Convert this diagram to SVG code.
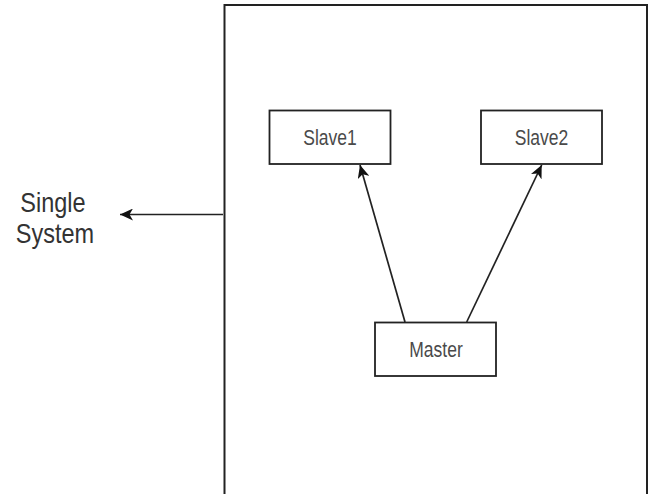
<svg xmlns="http://www.w3.org/2000/svg" width="653" height="494" viewBox="0 0 653 494">
<defs>
<marker id="arr" markerWidth="14" markerHeight="12" refX="13" refY="6" orient="auto" markerUnits="userSpaceOnUse">
<path d="M0,0 L13,6 L0,12 L3.5,6 Z" fill="#111"/>
</marker>
</defs>
<style>
.box{fill:#fff;stroke:#222;stroke-width:1.8}
.lbl{font-family:"Liberation Sans",Arial,sans-serif;font-size:17.5px;fill:#4a4a4a;text-anchor:middle}
.side{font-family:"Liberation Sans",Arial,sans-serif;font-size:23.5px;fill:#333;text-anchor:middle}
.edge{fill:none;stroke:#222;stroke-width:1.7}
</style>
<rect width="653" height="494" fill="#fff"/>
<g id="system">
<path d="M224.5,496 V5 H647 V496" fill="none" stroke="#222" stroke-width="2"/>
</g>
<g id="single-system-label">
<text class="side" transform="translate(53,212) scale(1,1.2)">Single</text>
<text class="side" transform="translate(55,243) scale(1,1.2)">System</text>
</g>
<g id="slave1">
<rect class="box" x="269.5" y="110.5" width="121" height="53.5"/>
<text class="lbl" transform="translate(330,145) scale(1,1.24)">Slave1</text>
</g>
<g id="slave2">
<rect class="box" x="481" y="110.5" width="121" height="53.5"/>
<text class="lbl" transform="translate(541.5,145) scale(1,1.24)">Slave2</text>
</g>
<g id="master">
<rect class="box" x="375" y="322.5" width="121" height="53.5"/>
<text class="lbl" transform="translate(436,356.5) scale(1,1.24)">Master</text>
</g>
<g id="connectors">
<line class="edge" x1="405" y1="322" x2="360" y2="165" marker-end="url(#arr)"/>
<line class="edge" x1="466.7" y1="322" x2="541.7" y2="165" marker-end="url(#arr)"/>
<line class="edge" x1="223" y1="214.5" x2="120" y2="214.5" marker-end="url(#arr)"/>
</g>
</svg>
